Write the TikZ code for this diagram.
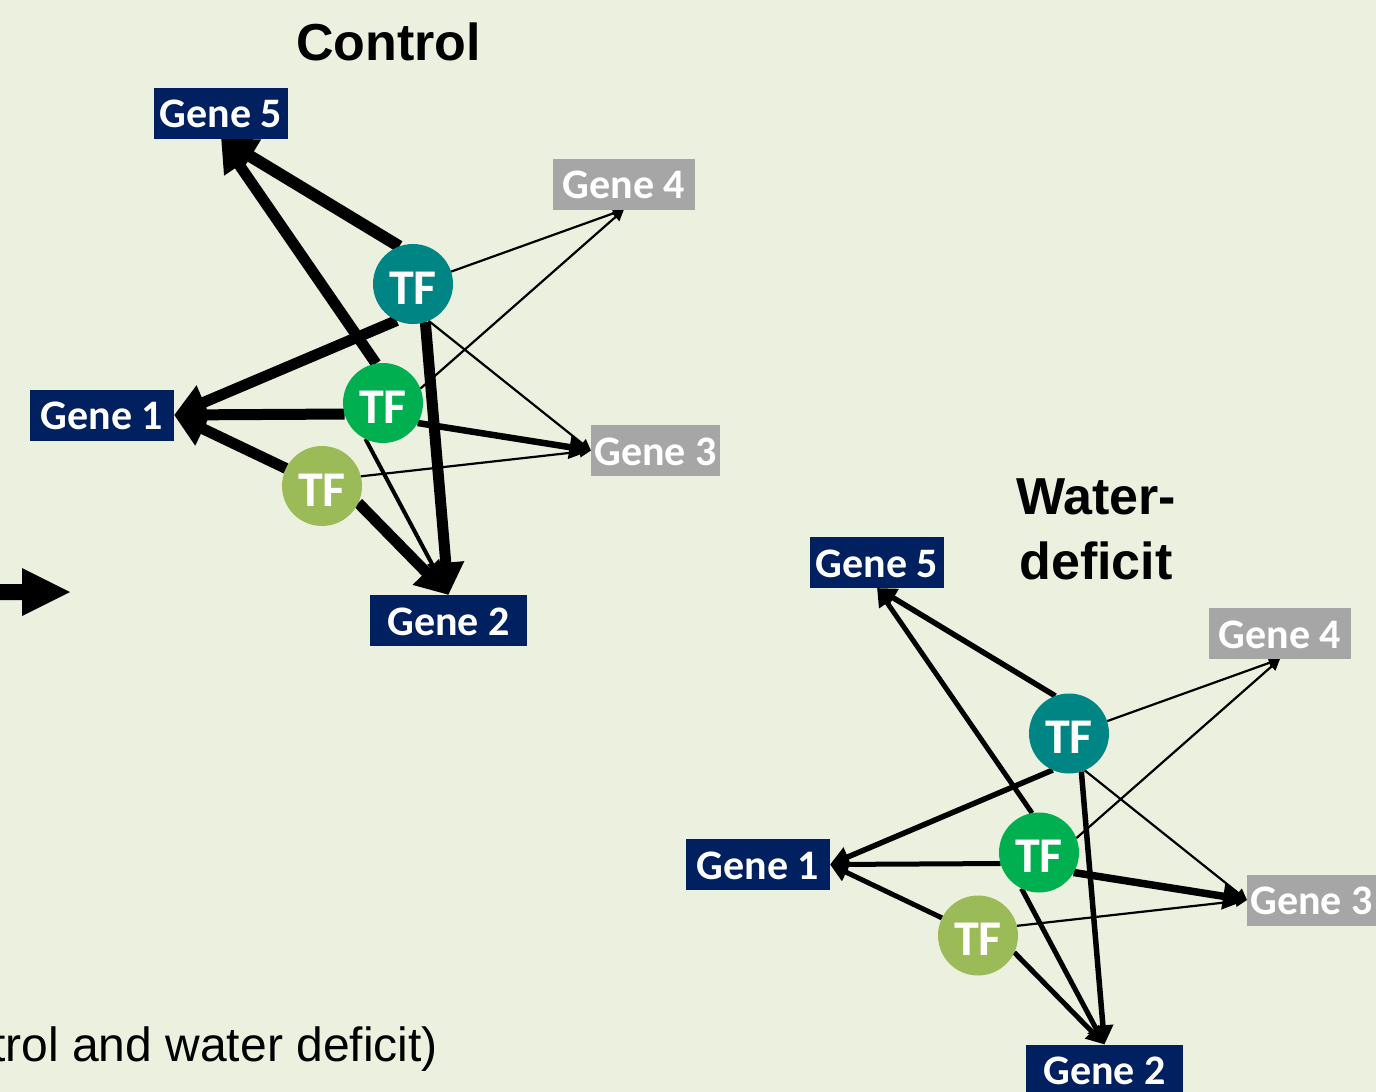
\documentclass[tikz,border=0pt]{standalone}
\usepackage{fontspec}
\setmainfont{Liberation Sans}
\newfontfamily\carl{Carlito}
\usetikzlibrary{arrows.meta}
\pgfdeclarelayer{bgl}
\pgfdeclarelayer{edges}
\pgfsetlayers{bgl,edges,main}
\definecolor{bg}{HTML}{EBF1DE}
\definecolor{navy}{HTML}{002060}
\definecolor{grey2}{HTML}{A6A6A6}
\definecolor{teal2}{HTML}{008585}
\definecolor{grn}{HTML}{00B050}
\definecolor{olv}{HTML}{9BBB59}
\begin{document}
\begin{tikzpicture}[x=1pt,y=-1pt,
 gene/.style={rectangle, inner sep=0pt, outer sep=0pt, minimum height=51pt, text height=29pt, text depth=0pt, text=white, font=\carl\bfseries\fontsize{42}{50}\selectfont},
 dg/.style={gene, fill=navy},
 lg/.style={gene, fill=grey2},
 tf/.style={circle, inner sep=0pt, outer sep=0pt, minimum size=80pt, text height=40pt, text depth=0pt, text=white, font=\carl\bfseries\fontsize{50}{60}\selectfont},
 ar/.style={line width=#1pt, -{Triangle[length=6pt 2.4, width=5pt 2.7]}},
 title/.style={font=\bfseries\fontsize{52}{65}\selectfont, align=center, inner sep=0pt}]
\begin{pgfonlayer}{bgl}
\fill[bg] (0,0) rectangle (1376,1092);
\end{pgfonlayer}
\useasboundingbox (0,0) rectangle (1376,1092);

% block arrow at left
\fill[black] (-5,584) -- (22,584) -- (22,568) -- (70,592) -- (22,616) -- (22,600) -- (-5,600) -- cycle;

% bottom text
\node[anchor=base east, inner sep=0pt, font=\fontsize{48}{58}\selectfont] (bt) at (438,1061) {trol and water deficit)};

% ===== Control network =====
\node[title] (tc) at (388.5,42) {Control};
\node[dg, minimum width=134pt] (c5) at (221,113) {Gene 5};
\node[lg, minimum width=142pt] (c4) at (624,184) {Gene 4};
\node[dg, minimum width=144pt] (c1) at (102,415) {Gene 1};
\node[lg, minimum width=129pt] (c3) at (655.5,450.5) {Gene 3};
\node[dg, minimum width=157pt] (c2) at (448.5,620.5) {Gene 2};
\node[tf, fill=teal2] (ct) at (413,284) {TF};
\node[tf, fill=grn] (cg) at (383,403) {TF};
\node[tf, fill=olv] (cl) at (322,486) {TF};
\begin{pgfonlayer}{edges}
\draw[ar=12] (ct.110) -- (c5.south);
\draw[ar=11] (cg.100) -- (c5.south);
\draw[ar=11] (ct.246) -- (c1.east);
\draw[ar=11] (cg.196) -- (c1.east);
\draw[ar=11] (cl.154) -- (c1.east);
\draw[ar=2.2] (ct.18) -- (c4.south);
\draw[ar=2.2] (cg.21) -- (c4.south);
\draw[ar=2.2] (ct.293) -- (c3.west);
\draw[ar=6.5] (cg.330) -- (c3.west);
\draw[ar=2.2] (cl.14) -- (c3.west);
\draw[ar=11] (ct.288) -- (c2.north);
\draw[ar=4] (cg.244) -- (c2.north);
\draw[ar=11] (cl.335) -- (c2.north);
\end{pgfonlayer}

% ===== Water-deficit network =====
\node[title] (tw) at (1096,529.5) {Water-\\deficit};
\begin{scope}[shift={(656,449.5)}]
\node[dg, minimum width=134pt] (w5) at (221,113) {Gene 5};
\node[lg, minimum width=142pt] (w4) at (624,184) {Gene 4};
\node[dg, minimum width=144pt] (w1) at (102,415) {Gene 1};
\node[lg, minimum width=129pt] (w3) at (655.5,450.5) {Gene 3};
\node[dg, minimum width=157pt] (w2) at (448.5,620.5) {Gene 2};
\node[tf, fill=teal2] (wt) at (413,284) {TF};
\node[tf, fill=grn] (wg) at (383,403) {TF};
\node[tf, fill=olv] (wl) at (322,486) {TF};
\end{scope}
\begin{pgfonlayer}{edges}
\draw[ar=5.5] (wt.110) -- (w5.south);
\draw[ar=5] (wg.100) -- (w5.south);
\draw[ar=5.5] (wt.246) -- (w1.east);
\draw[ar=5] (wg.196) -- (w1.east);
\draw[ar=5] (wl.154) -- (w1.east);
\draw[ar=2.2] (wt.18) -- (w4.south);
\draw[ar=2.2] (wg.21) -- (w4.south);
\draw[ar=2.2] (wt.293) -- (w3.west);
\draw[ar=7.5] (wg.330) -- (w3.west);
\draw[ar=2.2] (wl.14) -- (w3.west);
\draw[ar=5.5] (wt.288) -- (w2.north);
\draw[ar=5] (wg.244) -- (w2.north);
\draw[ar=5] (wl.335) -- (w2.north);
\end{pgfonlayer}
\end{tikzpicture}
\end{document}
